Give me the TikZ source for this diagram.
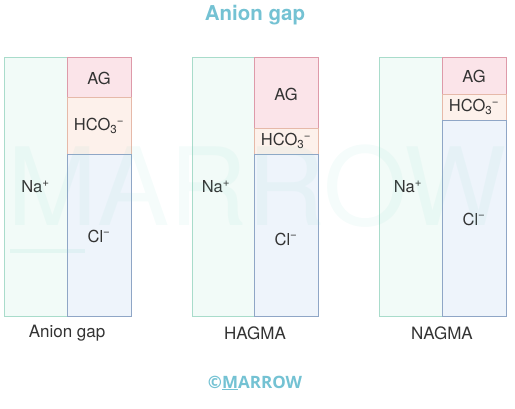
\documentclass[tikz,border=0pt]{standalone}
\usepackage{fontspec}
\setmainfont{TeX Gyre Heros}
\newfontfamily\marrowfont{Open Sans}
\definecolor{naline}{HTML}{A9DCCB}
\definecolor{nafill}{HTML}{F2FBF8}
\definecolor{agline}{HTML}{DE9AA9}
\definecolor{agfill}{HTML}{FBE4E9}
\definecolor{hcline}{HTML}{E6B9A9}
\definecolor{hcfill}{HTML}{FDF1EB}
\definecolor{clline}{HTML}{8FA6C6}
\definecolor{clfill}{HTML}{EEF4FB}
\definecolor{marrow}{HTML}{74C2D3}
\definecolor{markmint}{HTML}{7ED6C6}
\definecolor{labeltext}{HTML}{333333}
\tikzset{
	nabox/.style={draw=naline,fill=nafill,line width=0.9pt},
	agbox/.style={draw=agline,fill=agfill,line width=0.9pt},
	hcbox/.style={draw=hcline,fill=hcfill,line width=0.9pt},
	clbox/.style={draw=clline,fill=clfill,line width=0.9pt},
	ion/.style={text=labeltext,font=\fontsize{16.5}{18}\selectfont,inner sep=0pt},
	caption/.style={text=labeltext,font=\fontsize{17}{19}\selectfont,inner sep=0pt}
}
\newcommand{\hco}{HCO\textsubscript{3}\textsuperscript{\kern-0.05em−}}
\begin{document}
\begin{tikzpicture}[x=1pt,y=-1pt]
		\useasboundingbox (0,0) rectangle (515,408);
		\node [text=marrow,font=\bfseries\fontsize{20.5}{22}\selectfont] (title) at (255,15) {Anion gap};
%		first column: normal anion gap
		\draw [nabox] (4,57) rectangle (67,316);
		\draw [agbox] (67,57) rectangle (131,97);
		\draw [hcbox] (67,97) rectangle (131,154);
		\draw [clbox] (67,154) rectangle (131,316);
		\node [ion] (na1) at (35.5,187) {Na\textsuperscript{+}};
		\node [ion] (ag1) at (99,78) {AG};
		\node [ion] (hc1) at (99,126) {\hco};
		\node [ion] (cl1) at (99,236) {Cl\textsuperscript{−}};
		\node [caption] (cap1) at (67,333) {Anion gap};
%		second column: high anion gap
		\draw [nabox] (192,57) rectangle (254,316);
		\draw [agbox] (254,57) rectangle (318,128);
		\draw [hcbox] (254,128) rectangle (318,154);
		\draw [clbox] (254,154) rectangle (318,316);
		\node [ion] (na2) at (216,187) {Na\textsuperscript{+}};
		\node [ion] (ag2) at (286,94) {AG};
		\node [ion] (hc2) at (286,141) {\hco};
		\node [ion] (cl2) at (286,239) {Cl\textsuperscript{−}};
		\node [caption] (cap2) at (255,333) {HAGMA};
%		third column: normal anion gap acidosis
		\draw [nabox] (379,57) rectangle (442,316);
		\draw [agbox] (442,57) rectangle (506,94);
		\draw [hcbox] (442,94) rectangle (506,120);
		\draw [clbox] (442,120) rectangle (506,316);
		\node [ion] (na3) at (408,187) {Na\textsuperscript{+}};
		\node [ion] (ag3) at (474,76) {AG};
		\node [ion] (hc3) at (474,107) {\hco};
		\node [ion] (cl3) at (474,219) {Cl\textsuperscript{−}};
		\node [caption] (cap3) at (442,333) {NAGMA};
%		watermark
		\node [text=markmint,opacity=0.08,font=\fontsize{108}{110}\selectfont,inner sep=0pt,anchor=base] (mark) at (257,225) {MARROW};
		\fill [markmint,opacity=0.12] (10,249) rectangle (85,253);
		\node [text=marrow,font=\marrowfont\bfseries\fontsize{17}{19}\selectfont,inner sep=0pt] (copy) at (255,383) {©\underline{M}ARROW};
	\end{tikzpicture}
\end{document}
